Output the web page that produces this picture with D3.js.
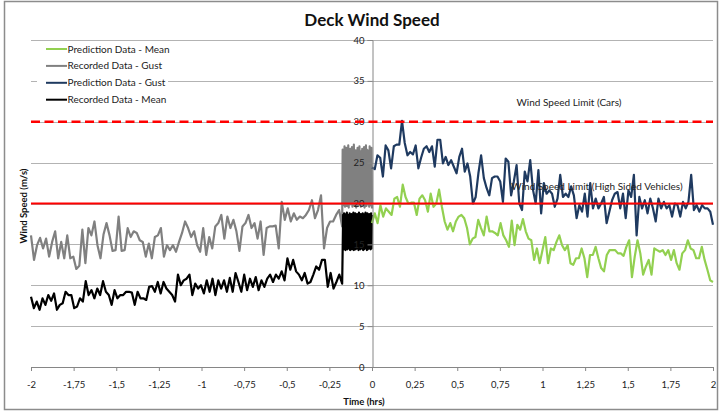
<!DOCTYPE html>
<html>
<head>
<meta charset="utf-8">
<script src="https://cdn.jsdelivr.net/npm/d3@7"></script>
<style>
  html, body { margin: 0; padding: 0; background: #fff; }
  svg { display: block; font-family: Lato, "Open Sans", sans-serif; }
</style>
</head>
<body>
<svg id="chart" width="720" height="412"></svg>
<script>
// Time axis (hours) and value axis ticks
const xTicks = [-2, -1.75, -1.5, -1.25, -1, -0.75, -0.5, -0.25, 0, 0.25, 0.5, 0.75, 1, 1.25, 1.5, 1.75, 2];
const yTicks = [0, 5, 10, 15, 20, 25, 30, 35, 40];

// Recorded data, one-minute resolution (hours -2 .. -0.175)
const recordedSpan = [-2, -0.175];
const recordedGust = [16.1,13.1,14.9,15.8,14.5,15.7,13.5,15.3,16.6,13.3,15.3,13.3,16.1,13.3,13.5,12.0,12.4,16.8,12.7,17.0,
  16.1,17.8,14.9,13.3,16.2,17.6,16.1,14.2,14.3,18.4,14.2,14.3,17.0,15.9,16.6,16.4,15.5,15.3,13.5,15.1,
  13.3,15.9,16.1,17.0,13.5,14.9,14.3,14.9,14.1,15.3,16.4,17.8,17.0,15.9,
  16.6,14.9,14.1,17.0,13.7,15.9,14.5,17.2,17.6,18.6,15.7,18.4,17.0,18.0,16.6,14.2,17.2,17.6,18.6,17.0,
  17.6,15.7,17.8,13.7,17.0,17.2,17.2,17.3,14.5,20.2,18.0,19.4,17.8,18.8,18.0,18.4,18.2,18.6,19.2,20.4,
  18.2,19.2,21.0,14.5,17.0,17.8,17.8,18.6,19.2,17.2];
const recordedMean = [8.6,7.2,8.0,7.0,8.4,7.6,8.8,8.1,9.0,7.0,7.6,7.8,9.2,8.8,8.8,7.2,7.4,8.4,8.0,10.5,
  8.8,9.4,8.4,9.6,8.8,10.5,9.2,8.8,7.6,9.4,8.4,8.8,8.8,9.2,9.2,9.1,7.6,9.2,8.4,8.4,
  8.2,9.8,9.9,9.2,10.4,9.0,10.4,9.6,9.2,8.8,8.0,11.3,10.0,10.6,10.8,11.3,
  8.8,10.2,9.6,10.0,9.0,10.6,9.2,10.8,8.8,10.6,9.6,10.6,9.2,10.9,9.2,11.5,10.4,9.2,11.3,9.4,
  10.8,9.8,11.0,9.4,10.6,9.8,10.8,11.3,10.4,11.3,10.8,11.7,10.6,13.3,11.9,13.1,11.7,11.3,10.6,11.5,
  10.2,10.4,11.3,12.3,11.9,13.1,13.1,9.8,11.5,9.6,10.4,11.3,10.2];

// Recorded data, high-resolution samples over the last ten minutes (hours -0.172 .. 0)
const hiResSpan = [-0.172, 0];
const recordedGustHiRes = [26.6,19.8,26.2,20.1,27.0,19.6,25.9,20.3,26.8,19.7,26.4,20.0,27.1,19.5,26.0,20.2,
  26.7,19.9,25.8,20.4,26.9,19.6,26.3,20.0,27.2,19.8,26.1,20.3,26.5,19.5,25.9,20.1,
  26.8,19.7,26.2,20.2,27.0,19.9,26.4,19.6,25.9,20.3,26.7,19.8,26.0,20.0,26.9,19.5,
  26.3,20.2,27.1,19.7,26.6,19.9,25.8,20.1,26.5,19.6,27.0,19.8,26.2,20.3,26.8,19.4];
const recordedMeanHiRes = [14.5,18.6,14.4,18.8,14.6,18.5,14.3,18.7,14.5,18.9,14.4,18.6,14.6,18.4,14.5,18.8,
  14.3,18.6,14.6,18.7,14.4,18.5,14.5,18.9,14.3,18.6,14.6,18.8,14.4,18.5,14.5,18.7,
  14.6,18.6,14.3,18.9,14.5,18.4,14.4,18.7,14.6,18.6,14.5,18.8,14.3,18.5,14.4,18.7,
  14.6,18.9,14.5,18.6,14.3,18.8,14.4,18.5,14.6,18.7,14.5,18.6,14.4,18.8,14.5,18.6];

// Prediction data (hours 0 .. 2)
const predictionSpan = [0, 2];
const predictionGust = [24.4,24.2,25.9,25.6,23.3,27.1,26.5,24.3,27.0,27.2,27.2,30.1,27.4,25.9,26.3,26.0,27.1,24.3,25.6,26.7,
  27.0,26.3,27.0,24.5,27.8,27.8,24.9,25.7,24.7,25.3,24.5,23.7,25.7,26.7,23.9,24.9,23.3,20.0,20.8,23.7,
  25.9,23.1,21.9,21.0,23.1,23.3,23.3,22.7,20.2,25.5,25.1,21.0,22.7,24.7,20.0,19.2,23.9,22.7,25.3,21.7,20.0,
  24.1,18.8,22.5,21.2,21.6,21.2,19.6,20.6,23.5,20.8,21.2,20.8,22.1,21.0,18.2,19.8,19.0,21.2,18.4,22.5,
  19.4,20.6,19.4,20.0,20.8,17.6,19.0,20.4,21.2,21.4,19.4,21.2,18.2,21.6,20.8,23.5,16.1,20.8,19.4,20.4,
  18.8,20.6,19.4,17.8,20.6,19.4,20.2,19.4,19.8,18.4,20.0,19.8,18.4,20.2,19.4,20.2,23.5,19.2,19.8,19.0,
  19.8,19.4,19.4,19.0,17.4];
const predictionMean = [17.6,18.8,17.6,19.8,18.4,19.4,19.0,18.6,20.6,20.8,19.6,22.3,20.8,20.0,20.1,20.1,18.6,20.6,21.0,20.4,
  19.0,21.2,19.6,20.0,21.7,19.6,17.8,16.8,17.6,16.6,17.8,18.4,18.6,18.2,17.0,15.0,15.7,15.9,18.0,17.0,
  16.1,18.4,16.6,16.6,16.4,16.1,17.6,16.1,15.5,14.7,17.9,14.9,17.4,16.8,18.1,16.6,15.7,
  15.5,13.1,14.5,12.7,14.3,15.9,12.7,14.5,14.3,15.3,16.1,14.9,14.3,14.9,12.7,12.5,13.3,13.3,14.5,13.3,
  11.0,13.7,13.7,14.7,13.3,12.1,11.7,13.7,14.3,14.3,14.3,13.9,13.9,13.6,14.7,15.5,11.0,13.5,15.5,13.9,
  11.3,12.3,13.1,11.3,14.5,14.3,14.1,14.3,13.7,14.3,13.1,14.3,12.7,11.9,13.9,14.3,15.5,14.5,14.3,13.3,
  13.3,14.7,13.1,11.9,10.6,10.4];

// Wind speed limits
const limitCars = 30;
const limitHighSided = 20;

const legendItems = [
  { name: "Prediction Data - Mean", color: "#92D050" },
  { name: "Recorded Data - Gust", color: "#808080" },
  { name: "Prediction Data - Gust", color: "#1F3A60" },
  { name: "Recorded Data - Mean", color: "#000000" }
];

// Pair a value array with evenly spaced times across a span
function spread(values, span) {
  const n = values.length;
  return values.map((v, i) => ({ t: span[0] + (span[1] - span[0]) * i / (n - 1), v }));
}

const svg = d3.select("#chart");
const x = d3.scaleLinear().domain([-2, 2]).range([31, 713]);
const y = d3.scaleLinear().domain([0, 40]).range([367, 40]);

// Outer chart frame
svg.append("rect").attr("x", 4.5).attr("y", 1.5).attr("width", 713).attr("height", 408)
  .attr("fill", "#fff").attr("stroke", "#8c8c8c").attr("stroke-width", 1.5);

// Horizontal gridlines
svg.append("g").selectAll("line").data(yTicks.filter(d => d > 0)).join("line")
  .attr("x1", x(-2)).attr("x2", x(2))
  .attr("y1", d => Math.round(y(d)) + 0.5).attr("y2", d => Math.round(y(d)) + 0.5)
  .attr("stroke", "#b3b3b3").attr("stroke-width", 1);

// Series lines
const line = d3.line().x(d => x(d.t)).y(d => y(d.v));
const gustPts = spread(recordedGust, recordedSpan).concat(spread(recordedGustHiRes, hiResSpan));
const meanPts = spread(recordedMean, recordedSpan).concat(spread(recordedMeanHiRes, hiResSpan));
const series = [
  { pts: gustPts, color: "#808080" },
  { pts: meanPts, color: "#000000" },
  { pts: spread(predictionGust, predictionSpan), color: "#1F3A60" },
  { pts: spread(predictionMean, predictionSpan), color: "#92D050" }
];
svg.append("g").selectAll("path").data(series).join("path")
  .attr("d", d => line(d.pts))
  .attr("fill", "none").attr("stroke", d => d.color)
  .attr("stroke-width", 2.2).attr("stroke-linejoin", "round");

// X axis at zero wind speed
const xAxis = d3.axisBottom(x).tickValues(xTicks).tickSize(4).tickPadding(10)
  .tickFormat(d => String(+d.toFixed(2)).replace(".", ","));
const gx = svg.append("g").attr("transform", `translate(0,${y(0)})`).call(xAxis);
gx.select(".domain").attr("stroke", "#868686");
gx.selectAll(".tick line").attr("stroke", "#868686");
gx.selectAll(".tick text").attr("font-size", 9.5).attr("fill", "#222").attr("font-family", "Lato, sans-serif");

// Y axis crossing at time zero
const yAxis = d3.axisLeft(y).tickValues(yTicks).tickSize(5).tickPadding(3).tickFormat(d3.format("d"));
const gy = svg.append("g").attr("transform", `translate(${Math.round(x(0)) + 0.5},0)`).call(yAxis);
gy.select(".domain").attr("stroke", "#868686");
gy.selectAll(".tick line").attr("stroke", "#868686");
gy.selectAll(".tick text").attr("font-size", 9.5).attr("fill", "#222").attr("font-family", "Lato, sans-serif");

// Limit lines
svg.append("line").attr("x1", x(-2)).attr("x2", x(2)).attr("y1", y(limitCars)).attr("y2", y(limitCars))
  .attr("stroke", "#FF0000").attr("stroke-width", 2.5).attr("stroke-dasharray", "9,4.5");
svg.append("line").attr("x1", x(-2)).attr("x2", x(2)).attr("y1", y(limitHighSided)).attr("y2", y(limitHighSided))
  .attr("stroke", "#FF0000").attr("stroke-width", 2);

svg.append("text").attr("x", 569).attr("y", 106).attr("text-anchor", "middle")
  .attr("font-size", 10).attr("fill", "#222").text("Wind Speed Limit (Cars)");
svg.append("text").attr("x", 597).attr("y", 190).attr("text-anchor", "middle")
  .attr("font-size", 10).attr("fill", "#222").text("Wind Speed Limit (High Sided Vehicles)");

// Legend
const legend = svg.append("g");
legend.append("rect").attr("x", 37).attr("y", 42).attr("width", 131).attr("height", 68).attr("fill", "#fff");
const li = legend.selectAll("g").data(legendItems).join("g")
  .attr("transform", (d, i) => `translate(0,${49 + i * 16.9})`);
li.append("line").attr("x1", 46).attr("x2", 67).attr("stroke", d => d.color).attr("stroke-width", 2);
li.append("text").attr("x", 67.5).attr("y", 3.5).attr("font-size", 10).attr("fill", "#222").text(d => d.name);

// Titles
svg.append("text").attr("x", 372).attr("y", 26).attr("text-anchor", "middle")
  .attr("font-size", 17).attr("font-weight", "bold").attr("fill", "#111").text("Deck Wind Speed");
svg.append("text").attr("x", 364).attr("y", 405).attr("text-anchor", "middle")
  .attr("font-size", 9.5).attr("font-weight", "bold").attr("fill", "#111").text("Time (hrs)");
svg.append("text").attr("transform", "translate(27,206) rotate(-90)").attr("text-anchor", "middle")
  .attr("font-size", 9.5).attr("font-weight", "bold").attr("fill", "#111").text("Wind Speed (m/s)");
</script>
</body>
</html>
